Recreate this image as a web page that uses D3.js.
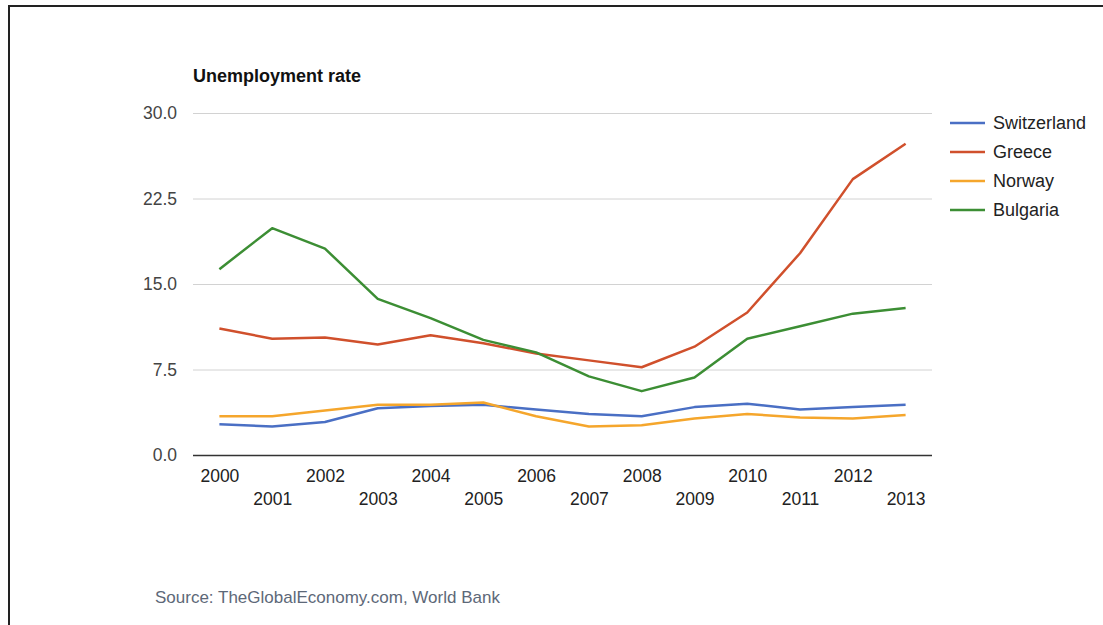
<!DOCTYPE html>
<meta charset="utf-8">
<script src="https://d3js.org/d3.v7.js"></script>
<style>
  body { margin: 0; background: #fff; }
  text { font-family: "Liberation Sans", Arial, sans-serif; }
</style>
<div id="chart"></div>
<script>

// data
const years = ["2000","2001","2002","2003","2004","2005","2006","2007","2008","2009","2010","2011","2012","2013"];
const switzerland = [2.7, 2.5, 2.9, 4.1, 4.3, 4.4, 4.0, 3.6, 3.4, 4.2, 4.5, 4.0, 4.2, 4.4];
const greece      = [11.1, 10.2, 10.3, 9.7, 10.5, 9.8, 8.9, 8.3, 7.7, 9.5, 12.5, 17.7, 24.2, 27.3];
const norway      = [3.4, 3.4, 3.9, 4.4, 4.4, 4.6, 3.4, 2.5, 2.6, 3.2, 3.6, 3.3, 3.2, 3.5];
const bulgaria    = [16.3, 19.9, 18.1, 13.7, 12.0, 10.1, 9.0, 6.9, 5.6, 6.8, 10.2, 11.3, 12.4, 12.9];
const seriesNames = ["Switzerland", "Greece", "Norway", "Bulgaria"];
const yTicks = [0, 7.5, 15, 22.5, 30];

const series = [switzerland, greece, norway, bulgaria].map((v, i) => ({name: seriesNames[i], values: v}));
const colors = ["#4a6fc4", "#d0502c", "#f5a62c", "#3c8e34"];

const W = 1103, H = 625;
const margin = {top: 113, left: 193, right: 171, bottom: 170};
const width = W - margin.left - margin.right,
      height = H - margin.top - margin.bottom;

const svg = d3.select("#chart").append("svg")
    .attr("width", W).attr("height", H);

// frame lines (left and top)
svg.append("line").attr("x1", 9).attr("x2", 9).attr("y1", 5).attr("y2", H)
    .attr("stroke", "#222").attr("stroke-width", 2);
svg.append("line").attr("x1", 8).attr("x2", W).attr("y1", 6).attr("y2", 6)
    .attr("stroke", "#222").attr("stroke-width", 2);

const g = svg.append("g").attr("transform", `translate(${margin.left},${margin.top})`);

const x = d3.scalePoint().domain(years).range([0, width]).padding(0.5);
const y = d3.scaleLinear().domain([0, 30]).range([height, 0]);

// gridlines + y labels
const yAxis = g.append("g").call(d3.axisLeft(y).tickValues(yTicks).tickSize(-width).tickFormat(d3.format(".1f")));
yAxis.select(".domain").remove();
yAxis.selectAll(".tick line").attr("stroke", d => d === 0 ? "#333" : "#d2d2d2").attr("stroke-width", d => d === 0 ? 1.3 : 1);
yAxis.selectAll(".tick text").attr("x", -16).attr("fill", "#444").style("font-size", "17.5px");

// x labels, staggered
const xAxis = g.append("g").attr("transform", `translate(0,${height})`)
    .call(d3.axisBottom(x).tickSize(0));
xAxis.select(".domain").remove();
xAxis.selectAll(".tick text")
    .attr("y", (d, i) => i % 2 === 0 ? 15 : 38)
    .attr("fill", "#222").style("font-size", "17.5px");

// lines
const line = d3.line().x((d, i) => x(years[i])).y(d => y(d));
g.selectAll(".series").data(series).join("path")
    .attr("fill", "none")
    .attr("stroke", (d, i) => colors[i])
    .attr("stroke-width", 2.5)
    .attr("stroke-linejoin", "round")
    .attr("d", d => line(d.values));

// title
svg.append("text").attr("x", 193).attr("y", 82)
    .style("font-size", "18px").style("font-weight", "bold").attr("fill", "#111")
    .text("Unemployment rate");

// legend
const legend = svg.append("g").attr("transform", "translate(950,123)");
const li = legend.selectAll("g").data(series).join("g")
    .attr("transform", (d, i) => `translate(0,${i * 29})`);
li.append("line").attr("x1", 0).attr("x2", 35).attr("y1", 0).attr("y2", 0)
    .attr("stroke", (d, i) => colors[i]).attr("stroke-width", 2.5);
li.append("text").attr("x", 43).attr("dy", "0.35em")
    .style("font-size", "18px").attr("fill", "#222")
    .text(d => d.name);

// source
svg.append("text").attr("x", 155).attr("y", 603)
    .style("font-size", "17px").attr("fill", "#5d6878")
    .text("Source: TheGlobalEconomy.com, World Bank");

</script>
